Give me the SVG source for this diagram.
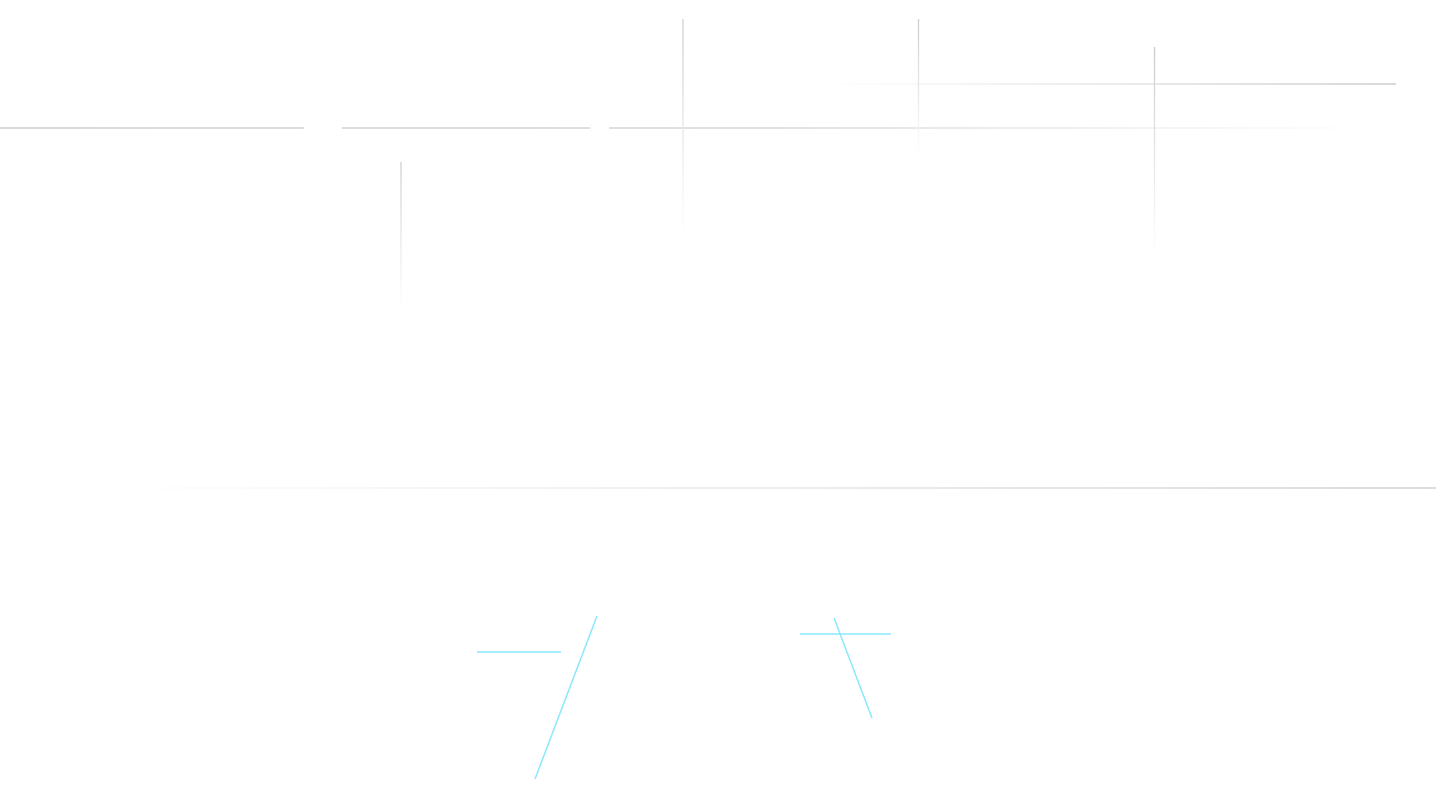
<svg xmlns="http://www.w3.org/2000/svg" width="1436" height="810" viewBox="0 0 1436 810">
<defs>
<linearGradient id="gTop" gradientUnits="userSpaceOnUse" x1="0" y1="0" x2="1380" y2="0">
<stop offset="0" stop-color="#cdcdcd"/><stop offset="0.55" stop-color="#d6d6d6"/><stop offset="1" stop-color="#ffffff"/>
</linearGradient>
<linearGradient id="gUpper" gradientUnits="userSpaceOnUse" x1="820" y1="0" x2="1396" y2="0">
<stop offset="0" stop-color="#ffffff"/><stop offset="1" stop-color="#cccccc"/>
</linearGradient>
<linearGradient id="gBottom" gradientUnits="userSpaceOnUse" x1="80" y1="0" x2="1436" y2="0">
<stop offset="0" stop-color="#ffffff"/><stop offset="1" stop-color="#d0d0d0"/>
</linearGradient>
<linearGradient id="gV1" gradientUnits="userSpaceOnUse" x1="0" y1="19" x2="0" y2="240">
<stop offset="0" stop-color="#cfcfcf"/><stop offset="1" stop-color="#ffffff"/>
</linearGradient>
<linearGradient id="gV2" gradientUnits="userSpaceOnUse" x1="0" y1="162" x2="0" y2="312">
<stop offset="0" stop-color="#cfcfcf"/><stop offset="1" stop-color="#ffffff"/>
</linearGradient>
<linearGradient id="gV3" gradientUnits="userSpaceOnUse" x1="0" y1="19" x2="0" y2="158">
<stop offset="0" stop-color="#cfcfcf"/><stop offset="1" stop-color="#ffffff"/>
</linearGradient>
<linearGradient id="gV4" gradientUnits="userSpaceOnUse" x1="0" y1="47" x2="0" y2="258">
<stop offset="0" stop-color="#cccccc"/><stop offset="1" stop-color="#ffffff"/>
</linearGradient>
</defs>
<style>
.g{fill:none;stroke-width:1.3}
.c{fill:none;stroke:#8ae8fc;stroke-width:1.5}
</style>
<rect width="1436" height="810" fill="#ffffff"/>
<g id="connectors">
<line class="g" x1="0" y1="128" x2="304" y2="128" stroke="url(#gTop)"/>
<line class="g" x1="342" y1="128" x2="590" y2="128" stroke="url(#gTop)"/>
<line class="g" x1="609" y1="128" x2="1380" y2="128" stroke="url(#gTop)"/>
<line class="g" x1="820" y1="84" x2="1396" y2="84" stroke="url(#gUpper)"/>
<line class="g" x1="80" y1="488" x2="1436" y2="488" stroke="url(#gBottom)"/>
<line class="g" x1="683" y1="19" x2="683" y2="240" stroke="url(#gV1)"/>
<line class="g" x1="401" y1="162" x2="401" y2="312" stroke="url(#gV2)"/>
<line class="g" x1="918.5" y1="19" x2="918.5" y2="158" stroke="url(#gV3)"/>
<line class="g" x1="1154.5" y1="47" x2="1154.5" y2="258" stroke="url(#gV4)"/>
<line class="c" x1="477" y1="652" x2="561" y2="652"/>
<line class="c" x1="597" y1="616" x2="535" y2="779" stroke-width="2"/>
<line class="c" x1="800" y1="634" x2="891" y2="634" stroke-width="1.2"/>
<line class="c" x1="834" y1="618" x2="872" y2="718" stroke-width="2"/>
</g>
</svg>
